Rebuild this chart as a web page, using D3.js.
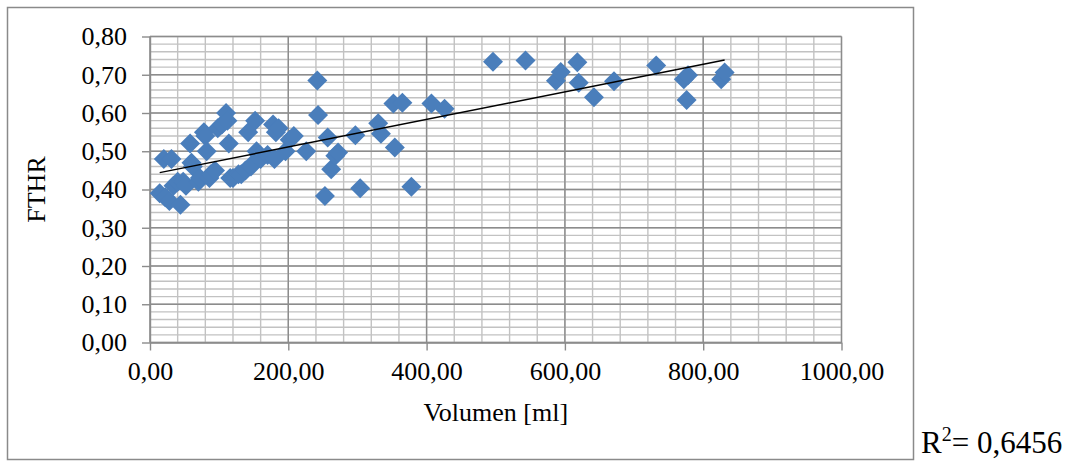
<!DOCTYPE html>
<html>
<head>
<meta charset="utf-8">
<script src="https://cdn.jsdelivr.net/npm/d3@7"></script>
<style>
  html, body { margin: 0; padding: 0; background: #fff; }
  svg { display: block; }
  text { font-family: "Liberation Serif", "Times New Roman", serif; fill: #000; }
</style>
</head>
<body>
<script>
// Tumour volume (ml) against FTHR, one entry per case
const volumes = [
  14, 20, 22, 28, 31, 34, 40, 44, 48, 52,
  58, 60, 62, 70, 72, 78, 80, 82, 86, 88,
  94, 98, 104, 110, 112, 114, 116, 120, 128, 132,
  138, 142, 146, 150, 152, 154, 158, 160, 170, 178,
  180, 182, 186, 196, 202, 208, 226,
  242, 243, 253, 257, 262, 268, 272, 297, 304, 330,
  334, 352, 354, 365, 378, 407, 426,
  496, 543, 587, 594, 618, 620, 642, 671, 732, 772,
  778, 776, 826, 831
];
const fthr = [
  0.39, 0.48, 0.38, 0.37, 0.48, 0.41, 0.42, 0.36, 0.42, 0.41,
  0.52, 0.47, 0.46, 0.42, 0.43, 0.55, 0.54, 0.50, 0.43, 0.44,
  0.45, 0.56, 0.57, 0.60, 0.58, 0.52, 0.43, 0.43, 0.44, 0.44,
  0.45, 0.55, 0.46, 0.47, 0.58, 0.50, 0.49, 0.48, 0.49, 0.57,
  0.48, 0.55, 0.56, 0.50, 0.53, 0.54, 0.50,
  0.685, 0.595, 0.383, 0.536, 0.453, 0.488, 0.497, 0.542, 0.403, 0.573,
  0.546, 0.625, 0.51, 0.627, 0.407, 0.625, 0.611,
  0.734, 0.737, 0.684, 0.707, 0.733, 0.679, 0.641, 0.683, 0.724, 0.688,
  0.699, 0.634, 0.688, 0.706
];

const xTicks = [0, 200, 400, 600, 800, 1000];
const yTicks = [0, 0.1, 0.2, 0.3, 0.4, 0.5, 0.6, 0.7, 0.8];
const xTitle = "Volumen [ml]";
const yTitle = "FTHR";
const r2Label = "0,6456";

const W = 1077, H = 464;
const plot = { left: 150, right: 841.5, top: 36.5, bottom: 342.5 };

const svg = d3.select("body").append("svg")
  .attr("width", W).attr("height", H);

// outer chart frame
svg.append("rect")
  .attr("x", 7.5).attr("y", 7.5)
  .attr("width", 906).attr("height", 452)
  .attr("fill", "#fff").attr("stroke", "#8a8a8a").attr("stroke-width", 1.5);

const x = d3.scaleLinear().domain([0, 1000]).range([plot.left, plot.right]);
const y = d3.scaleLinear().domain([0, 0.8]).range([plot.bottom, plot.top]);

const comma = f => v => f(v).replace(".", ",");
const fmt2 = comma(d3.format(".2f"));

// minor gridlines
const g = svg.append("g");
g.selectAll("line.vminor").data(d3.range(0, 1000.1, 40))
  .join("line")
  .attr("x1", d => x(d)).attr("x2", d => x(d))
  .attr("y1", plot.top).attr("y2", plot.bottom)
  .attr("stroke", "#c2c2c2").attr("stroke-width", 1.4);
g.selectAll("line.hminor").data(d3.range(0, 0.801, 0.02))
  .join("line")
  .attr("x1", plot.left).attr("x2", plot.right)
  .attr("y1", d => y(d)).attr("y2", d => y(d))
  .attr("stroke", "#c2c2c2").attr("stroke-width", 1.4);

// major gridlines
g.selectAll("line.vmajor").data(xTicks)
  .join("line")
  .attr("x1", d => x(d)).attr("x2", d => x(d))
  .attr("y1", plot.top).attr("y2", plot.bottom)
  .attr("stroke", "#8c8c8c").attr("stroke-width", 1.4);
g.selectAll("line.hmajor").data(yTicks)
  .join("line")
  .attr("x1", plot.left).attr("x2", plot.right)
  .attr("y1", d => y(d)).attr("y2", d => y(d))
  .attr("stroke", "#8c8c8c").attr("stroke-width", 1.4);

// axes
const xAxis = d3.axisBottom(x).tickValues(xTicks).tickFormat(fmt2)
  .tickSize(8).tickSizeOuter(0).tickPadding(11);
const yAxis = d3.axisLeft(y).tickValues(yTicks).tickFormat(fmt2)
  .tickSize(8).tickSizeOuter(0).tickPadding(15);

const gx = svg.append("g").attr("transform", `translate(0,${plot.bottom})`).call(xAxis);
const gy = svg.append("g").attr("transform", `translate(${plot.left},0)`).call(yAxis);
[gx, gy].forEach(a => {
  a.selectAll("path.domain").attr("stroke", "#8c8c8c").attr("stroke-width", 1.4);
  a.selectAll(".tick line").attr("stroke", "#8c8c8c").attr("stroke-width", 1.4);
  a.selectAll(".tick text")
    .attr("font-family", "Liberation Serif, Times New Roman, serif")
    .attr("font-size", 26).attr("fill", "#000");
});

// axis titles
svg.append("text")
  .attr("x", (plot.left + plot.right) / 2).attr("y", 421)
  .attr("text-anchor", "middle").attr("font-size", 26)
  .text(xTitle);
svg.append("text")
  .attr("transform", `translate(45,${(plot.top + plot.bottom) / 2}) rotate(-90)`)
  .attr("text-anchor", "middle").attr("font-size", 26)
  .text(yTitle);

// data points (diamonds)
const pts = volumes.map((v, i) => [v, fthr[i]]);
const r = 10;
svg.append("g").selectAll("path").data(pts)
  .join("path")
  .attr("transform", d => `translate(${x(d[0])},${y(d[1])})`)
  .attr("d", `M0,${-r}L${r},0L0,${r}L${-r},0Z`)
  .attr("fill", "#4a7ebb");

// least-squares trendline across the data range
const mx = d3.mean(pts, d => d[0]);
const my = d3.mean(pts, d => d[1]);
const slope = d3.sum(pts, d => (d[0] - mx) * (d[1] - my)) / d3.sum(pts, d => (d[0] - mx) ** 2);
const icpt = my - slope * mx;
const [x0, x1] = d3.extent(pts, d => d[0]);
svg.append("line")
  .attr("x1", x(x0)).attr("y1", y(icpt + slope * x0))
  .attr("x2", x(x1)).attr("y2", y(icpt + slope * x1))
  .attr("stroke", "#000").attr("stroke-width", 1.5);

// coefficient of determination
const r2 = svg.append("text").attr("x", 921).attr("y", 453).attr("font-size", 31);
r2.append("tspan").text("R");
r2.append("tspan").attr("font-size", 20).attr("dy", -12).text("2");
r2.append("tspan").attr("dy", 12).text("= " + r2Label);
</script>
</body>
</html>
